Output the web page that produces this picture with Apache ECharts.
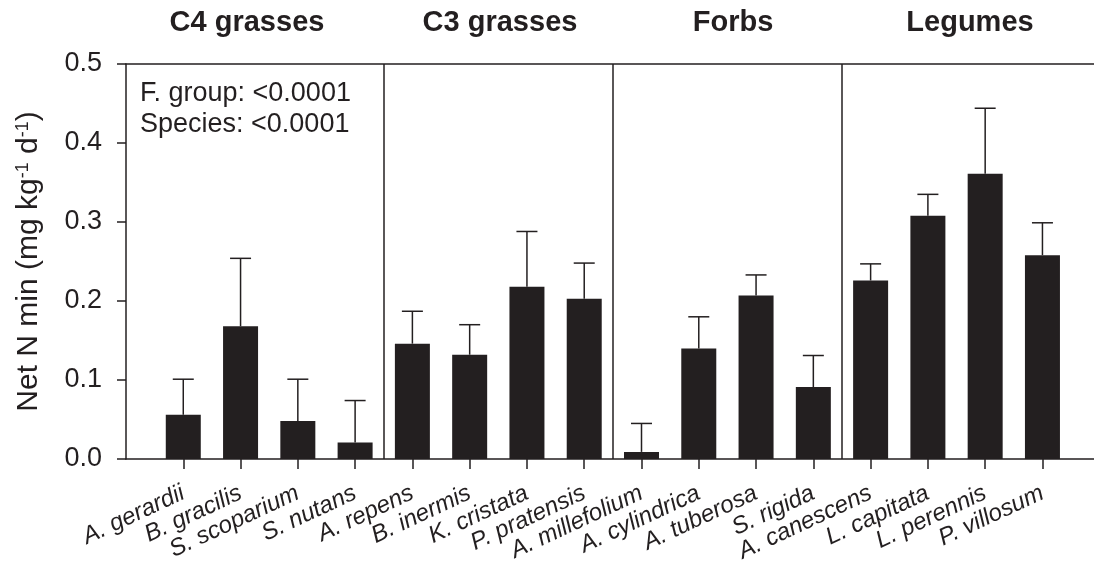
<!DOCTYPE html>
<html>
<head>
<meta charset="utf-8">
<script src="https://cdn.jsdelivr.net/npm/echarts@6/dist/echarts.min.js"></script>
<style>
  html, body { margin: 0; padding: 0; background: #fff; }
  #chart { width: 1094px; height: 567px; }
</style>
</head>
<body>
<div id="chart"></div>
<script>
const species = [
    "A. gerardii", "B. gracilis", "S. scoparium", "S. nutans",
    "A. repens", "B. inermis", "K. cristata", "P. pratensis",
    "A. millefolium", "A. cylindrica", "A. tuberosa", "S. rigida",
    "A. canescens", "L. capitata", "L. perennis", "P. villosum"
];
const means = [
    0.056, 0.168, 0.048, 0.021,
    0.146, 0.132, 0.218, 0.203,
    0.009, 0.140, 0.207, 0.091,
    0.226, 0.308, 0.361, 0.258
];
const se = [
    0.045, 0.086, 0.053, 0.053,
    0.041, 0.038, 0.070, 0.045,
    0.036, 0.040, 0.026, 0.040,
    0.021, 0.027, 0.083, 0.041
];
const groups = ["C4 grasses", "C3 grasses", "Forbs", "Legumes"];
const groupBreaks = [4.5, 8.5, 12.5];

const INK = "#231f20";
const FONT = "'Liberation Sans', Arial, Helvetica, sans-serif";

const positions = species.map((s, i) => i + 1);
const barData = means.map((m, i) => [positions[i], m]);
const errData = means.map((m, i) => [positions[i], m, m + se[i]]);

const chart = echarts.init(document.getElementById("chart"));

chart.setOption({
    backgroundColor: "#fff",
    animation: false,
    textStyle: { fontFamily: FONT, color: INK },

    grid: { left: 126, right: 0, top: 64, bottom: 108, containLabel: false, outerBoundsMode: "none" },

    xAxis: [
        {
            type: "value",
            min: 0,
            max: 16.9,
            splitLine: { show: false },
            axisLine: { show: true, lineStyle: { color: INK, width: 1.5 } },
            axisTick: {
                show: true,
                customValues: positions,
                length: 10,
                lineStyle: { color: INK, width: 1.5 }
            },
            axisLabel: {
                customValues: positions,
                formatter: v => species[Math.round(v) - 1] || "",
                rotate: 25,
                margin: 33,
                fontSize: 24,
                fontStyle: "italic",
                fontFamily: FONT,
                color: INK
            }
        },
        {
            // top border of the frame
            type: "value",
            position: "top",
            min: 0,
            max: 16.9,
            splitLine: { show: false },
            axisLine: { show: true, onZero: false, lineStyle: { color: INK, width: 1.5 } },
            axisTick: { show: false },
            axisLabel: { show: false }
        }
    ],

    yAxis: {
        type: "value",
        min: 0,
        max: 0.5,
        interval: 0.1,
        splitLine: { show: false },
        axisLine: { show: true, lineStyle: { color: INK, width: 1.5 } },
        axisTick: { show: true, length: 9, lineStyle: { color: INK, width: 1.5 } },
        axisLabel: {
            margin: 24,
            fontSize: 27,
            fontFamily: FONT,
            color: INK,
            formatter: v => v.toFixed(1)
        },
        name: "Net N min (mg kg{sup|-1} d{sup|-1})",
        nameLocation: "middle",
        nameGap: 82,
        nameTextStyle: {
            fontSize: 30,
            fontFamily: FONT,
            color: INK,
            rich: {
                sup: { fontSize: 18, verticalAlign: "top", fontFamily: FONT, color: INK, padding: [0, 0, 12, 0] }
            }
        }
    },

    series: [
        {
            type: "bar",
            data: barData,
            barWidth: 35,
            itemStyle: { color: INK },
            markLine: {
                silent: true,
                symbol: "none",
                label: { show: false },
                lineStyle: { color: INK, width: 1.5, type: "solid" },
                data: groupBreaks.map(x => ({ xAxis: x }))
            },
            z: 2
        },
        {
            type: "custom",
            data: errData,
            z: 3,
            renderItem: (params, api) => {
                const x = api.value(0);
                const base = api.coord([x, api.value(1)]);
                const top = api.coord([x, api.value(2)]);
                const half = 10.5;
                const style = { stroke: INK, lineWidth: 1.5 };
                return {
                    type: "group",
                    children: [
                        { type: "line", shape: { x1: base[0], y1: base[1], x2: top[0], y2: top[1] }, style },
                        { type: "line", shape: { x1: top[0] - half, y1: top[1], x2: top[0] + half, y2: top[1] }, style }
                    ]
                };
            }
        }
    ],

    graphic: [
        { type: "text", x: 247, y: 23, style: { text: groups[0], font: "bold 29px " + FONT, fill: INK, align: "center", verticalAlign: "middle" } },
        { type: "text", x: 500, y: 23, style: { text: groups[1], font: "bold 29px " + FONT, fill: INK, align: "center", verticalAlign: "middle" } },
        { type: "text", x: 733, y: 23, style: { text: groups[2], font: "bold 29px " + FONT, fill: INK, align: "center", verticalAlign: "middle" } },
        { type: "text", x: 970, y: 23, style: { text: groups[3], font: "bold 29px " + FONT, fill: INK, align: "center", verticalAlign: "middle" } },
        {
            type: "text",
            x: 140,
            y: 78,
            style: {
                text: "F. group: <0.0001\nSpecies: <0.0001",
                font: "27px " + FONT,
                lineHeight: 31,
                fill: INK
            }
        }
    ]
});
</script>
</body>
</html>
